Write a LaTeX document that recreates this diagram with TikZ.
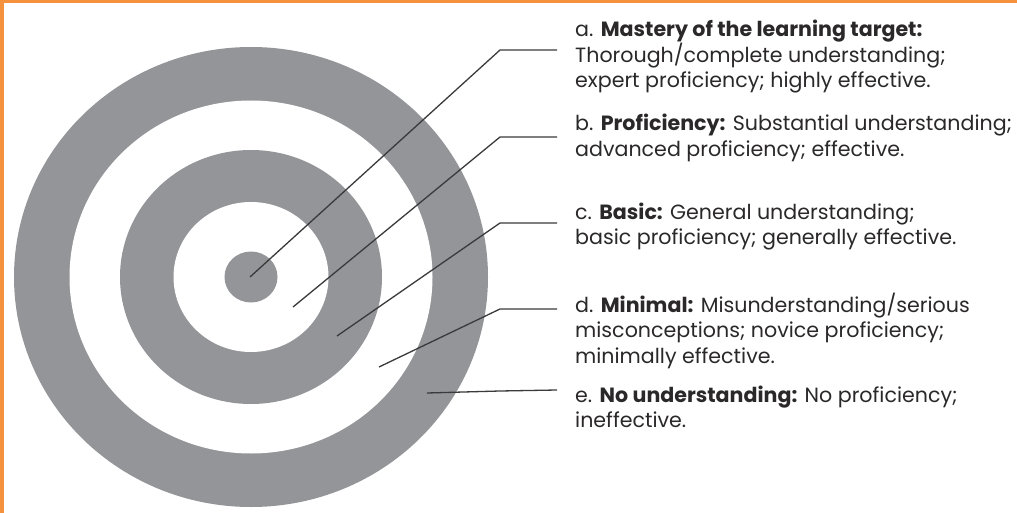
\documentclass[tikz,border=0pt]{standalone}
\usepackage{fontspec}
\setmainfont{Poppins}
\definecolor{frame}{HTML}{F4923E}
\definecolor{ring}{HTML}{939598}
\definecolor{ink}{HTML}{2A2829}
\definecolor{leader}{HTML}{3A3A3C}
\begin{document}
\begin{tikzpicture}[x=1pt,y=-1pt,
  lvl/.style={anchor=base west,inner sep=0pt,align=left,text=ink,
    font=\fontsize{20.6}{25.5}\selectfont},
  lead/.style={draw=leader,line width=1.3pt}]
\useasboundingbox (0,0) rectangle (1017,513);
% frame strips along the top and left
\fill[frame] (0,0) rectangle (1017,3);
\fill[frame] (0,0) rectangle (4,513);
% target rings
\coordinate (ctr) at (251,277);
\fill[ring] (ctr) ellipse[x radius=237,y radius=230];
\fill[white] (ctr) ellipse[x radius=181.5,y radius=176.5];
\fill[ring] (ctr) ellipse[x radius=131,y radius=127];
\fill[white] (ctr) ellipse[x radius=77.5,y radius=75];
\fill[ring] (ctr) ellipse[x radius=26.5,y radius=25.5];
% level descriptions (placed by the baseline of their last line)
\node[lvl] (ta) at (575,88) {a. \textbf{Mastery of the learning target:}\\Thorough/complete understanding;\\expert proficiency; highly effective.};
\node[lvl] (tb) at (575,156.5) {b. \textbf{Proficiency:} Substantial understanding;\\advanced proficiency; effective.};
\node[lvl] (tc) at (575,244.5) {c. \textbf{Basic:} General understanding;\\basic proficiency; generally effective.};
\node[lvl] (td) at (575,363) {d. \textbf{Minimal:} Misunderstanding/serious\\misconceptions; novice proficiency;\\minimally effective.};
\node[lvl] (te) at (575,427.5) {e. \textbf{No understanding:} No proficiency;\\ineffective.};
% leader line end points
\coordinate (pa) at (250,277);
\coordinate (ka) at (500,50);
\coordinate (ea) at (557,50);
\coordinate (pb) at (293,307);
\coordinate (kb) at (500,137);
\coordinate (eb) at (557,137);
\coordinate (pc) at (337,336);
\coordinate (kc) at (500,223);
\coordinate (ec) at (557,223);
\coordinate (pd) at (379,367);
\coordinate (kd) at (500,309);
\coordinate (ed) at (557,309);
\coordinate (pe) at (427,393);
\coordinate (ke) at (500,391);
\coordinate (ee) at (557,390);
\draw[lead] (pa) -- (ka) -- (ea);
\draw[lead] (pb) -- (kb) -- (eb);
\draw[lead] (pc) -- (kc) -- (ec);
\draw[lead] (pd) -- (kd) -- (ed);
\draw[lead] (pe) -- (ke) -- (ee);
\end{tikzpicture}
\end{document}
